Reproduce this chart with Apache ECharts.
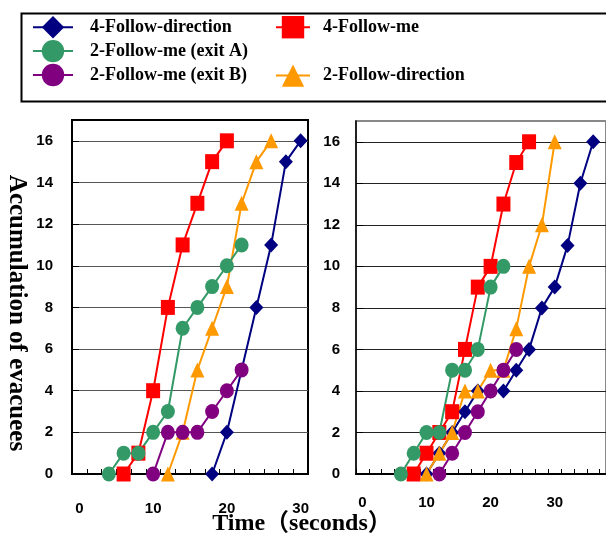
<!DOCTYPE html>
<html>
<head>
<meta charset="utf-8">
<script src="https://cdn.jsdelivr.net/npm/echarts@6/dist/echarts.min.js"></script>
<style>
html,body{margin:0;padding:0;background:#fff;}
#chart{width:606px;height:538px;}
</style>
</head>
<body>
<div id="chart"></div>
<script>
// ---- series names ----
const names = ['4-Follow-direction', '4-Follow-me', '2-Follow-me (exit A)', '2-Follow-me (exit B)', '2-Follow-direction'];

// ---- left panel data: [time (s), accumulated evacuees] ----
const leftDir4   = [[18,0],[20,2],[24,8],[26,11],[28,15],[30,16]];
const leftMe4    = [[6,0],[8,1],[10,4],[12,8],[14,11],[16,13],[18,15],[20,16]];
const leftDir2   = [[12,0],[14,2],[16,5],[18,7],[20,9],[22,13],[24,15],[26,16]];
const leftMeA    = [[4,0],[6,1],[8,1],[10,2],[12,3],[14,7],[16,8],[18,9],[20,10],[22,11]];
const leftMeB    = [[10,0],[12,2],[14,2],[16,2],[18,3],[20,4],[22,5]];

// ---- right panel data ----
const rightDir4  = [[10,0],[12,1],[14,2],[16,3],[18,4],[20,4],[22,4],[24,5],[26,6],[28,8],[30,9],[32,11],[34,14],[36,16]];
const rightMe4   = [[8,0],[10,1],[12,2],[14,3],[16,6],[18,9],[20,10],[22,13],[24,15],[26,16]];
const rightDir2  = [[10,0],[12,1],[14,2],[16,4],[18,4],[20,5],[22,5],[24,7],[26,10],[28,12],[30,16]];
const rightMeA   = [[6,0],[8,1],[10,2],[12,2],[14,5],[16,5],[18,6],[20,9],[22,10]];
const rightMeB   = [[12,0],[14,1],[16,2],[18,3],[20,4],[22,5],[24,6]];

// ---- tick labels ----
const xTickLabels = [0, 10, 20, 30];
const xMinorTicks = [-1, 1, 3, 5, 7, 9, 11, 13, 15, 17, 19, 21, 23, 25, 27, 29, 31, 33, 35, 37];
const yTickLabels = [0, 2, 4, 6, 8, 10, 12, 14, 16];

const colors = {
  '4-Follow-direction': '#000080',
  '4-Follow-me': '#ff0000',
  '2-Follow-me (exit A)': '#339966',
  '2-Follow-me (exit B)': '#800080',
  '2-Follow-direction': '#ff9900'
};
const symbols = {
  '4-Follow-direction': 'diamond',
  '4-Follow-me': 'rect',
  '2-Follow-me (exit A)': 'circle',
  '2-Follow-me (exit B)': 'circle',
  '2-Follow-direction': 'triangle'
};

const tickFont = {fontFamily: 'Liberation Sans', fontWeight: 'bold', fontSize: 15, color: '#000'};

function mkSeries(name, data, idx) {
  return {
    type: 'line', name: name, data: data,
    xAxisIndex: idx, yAxisIndex: idx,
    symbol: symbols[name], symbolSize: [14, 15],
    lineStyle: {width: 2, color: colors[name]},
    itemStyle: {color: colors[name]},
    showAllSymbol: true
  };
}

function mkX(gridIndex, max, labelMargin, lineW) {
  return {
    type: 'value', gridIndex: gridIndex, min: -1, max: max,
    axisLine: {show: true, onZero: false, lineStyle: {color: '#000', width: lineW}},
    axisTick: {show: true, inside: true, length: 5, customValues: xMinorTicks.filter(v => v <= max), lineStyle: {color: '#000', width: 1}},
    axisLabel: Object.assign({customValues: xTickLabels, margin: labelMargin}, tickFont),
    splitLine: {show: false}
  };
}
function mkY(gridIndex, labelMargin, splitColor, lineW) {
  return {
    type: 'value', gridIndex: gridIndex, min: 0, max: 17, interval: 2,
    axisLine: {show: true, onZero: false, lineStyle: {color: '#000', width: lineW}},
    axisTick: {show: true, inside: true, length: 7, customValues: yTickLabels, lineStyle: {color: '#000'}},
    axisLabel: Object.assign({customValues: yTickLabels, margin: labelMargin}, tickFont),
    splitLine: {show: true, lineStyle: {color: splitColor, width: 1}}
  };
}

const legendText = {fontFamily: 'Liberation Serif', fontWeight: 'bold', fontSize: 18, color: '#000', padding: [0, 0, 0, 12]};

const option = {
  animation: false,
  backgroundColor: '#fff',
  grid: [
    {left: 72, top: 120, width: 236, height: 354, show: true, borderColor: '#000', borderWidth: 2},
    {left: 356, top: 121, width: 257, height: 353, show: true, borderColor: '#888', borderWidth: 2}
  ],
  xAxis: [mkX(0, 31, 27, 2), mkX(1, 38, 21, 2)],
  yAxis: [mkY(0, 19, '#555', 2), mkY(1, 16, '#222', 1.5)],
  legend: [
    {left: 32, top: 16, padding: 0, orient: 'vertical', itemWidth: 40, itemHeight: 28, itemGap: 1.5,
     data: ['4-Follow-direction', '2-Follow-me (exit A)', '2-Follow-me (exit B)'], textStyle: legendText, selectedMode: false},
    {left: 275, top: 16, padding: 0, orient: 'vertical', itemWidth: 34, itemHeight: 28, itemGap: 26,
     data: ['4-Follow-me', '2-Follow-direction'], textStyle: Object.assign({}, legendText, {padding: [0, 0, 0, 8]}), selectedMode: false}
  ],
  graphic: [
    {type: 'rect', left: 19, top: 11, z: -1, shape: {x: 0, y: 0, width: 620, height: 88}, style: {fill: 'none', stroke: '#000', lineWidth: 2}},
    {type: 'text', x: 16, y: 313, rotation: -Math.PI / 2,
     style: {text: 'Accumulation of evacuees', fontFamily: 'Liberation Serif', fontWeight: 'bold', fontSize: 25, fill: '#000', align: 'center', verticalAlign: 'middle'}},
    {type: 'text', x: 302, y: 524,
     style: {text: 'Time（seconds）', fontFamily: 'Liberation Serif, Noto Sans CJK JP', fontWeight: 'bold', fontSize: 24, fill: '#000', align: 'center', verticalAlign: 'middle'}}
  ],
  series: [
    mkSeries('4-Follow-direction', leftDir4, 0),
    mkSeries('4-Follow-me', leftMe4, 0),
    mkSeries('2-Follow-direction', leftDir2, 0),
    mkSeries('2-Follow-me (exit A)', leftMeA, 0),
    mkSeries('2-Follow-me (exit B)', leftMeB, 0),
    mkSeries('4-Follow-direction', rightDir4, 1),
    mkSeries('4-Follow-me', rightMe4, 1),
    mkSeries('2-Follow-direction', rightDir2, 1),
    mkSeries('2-Follow-me (exit A)', rightMeA, 1),
    mkSeries('2-Follow-me (exit B)', rightMeB, 1)
  ]
};

const chart = echarts.init(document.getElementById('chart'), null, {renderer: 'canvas'});
chart.setOption(option);
</script>
</body>
</html>
